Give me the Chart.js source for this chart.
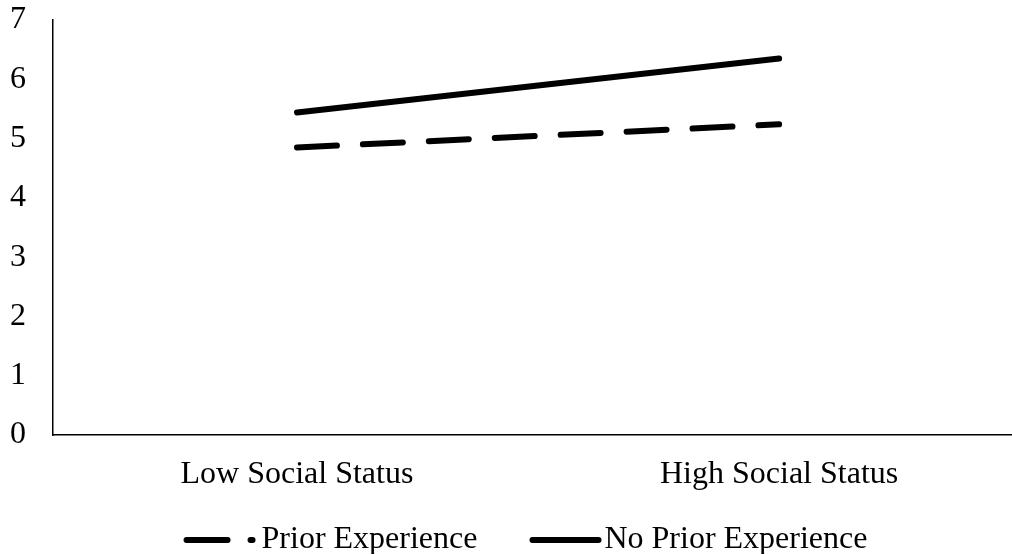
<!DOCTYPE html>
<html>
<head>
<meta charset="utf-8">
<script src="https://cdn.jsdelivr.net/npm/chart.js@4/dist/chart.umd.min.js"></script>
<style>
  html, body { margin: 0; padding: 0; background: #ffffff; }
  canvas { display: block; }
</style>
</head>
<body>
<canvas id="chart" width="1012" height="554"></canvas>
<script>
// Categories and series values
const categories = ['Low Social Status', 'High Social Status'];
const seriesNames = ['Prior Experience', 'No Prior Experience'];
const priorExperience = [4.85, 5.24];
const noPriorExperience = [5.44, 6.35];
const yMin = 0;
const yMax = 7;
const yStep = 1;

const FONT_FAMILY = "'Liberation Serif', 'Times New Roman', serif";
const LINE_WIDTH = 6;
const PLOT_DASH = [40, 26];

// Category positions on a numeric axis, with room on either side
const xPositions = categories.map((c, i) => i);
const X_MIN = -0.506;
const X_MAX = 1.483;

function toPoints(values) {
  return values.map((v, i) => ({ x: xPositions[i], y: v }));
}

// Legend swatches: a short line sample drawn inside a wider image
function makeSwatch(dash, from, to) {
  const c = document.createElement('canvas');
  c.width = 130;
  c.height = 10;
  const g = c.getContext('2d');
  g.strokeStyle = '#000';
  g.lineWidth = LINE_WIDTH;
  g.lineCap = 'round';
  g.setLineDash(dash);
  g.beginPath();
  g.moveTo(from, 5);
  g.lineTo(to, 5);
  g.stroke();
  return c;
}
const legendSwatches = [
  makeSwatch([41, 23], 56.5, 122.5),
  makeSwatch([], 59.5, 125.5)
];

new Chart(document.getElementById('chart'), {
  type: 'line',
  data: {
    datasets: [
      {
        label: seriesNames[0],
        data: toPoints(priorExperience),
        borderColor: '#000',
        backgroundColor: '#000',
        borderWidth: LINE_WIDTH,
        borderDash: PLOT_DASH,
        borderCapStyle: 'round',
        pointRadius: 0,
        tension: 0,
        fill: false
      },
      {
        label: seriesNames[1],
        data: toPoints(noPriorExperience),
        borderColor: '#000',
        backgroundColor: '#000',
        borderWidth: LINE_WIDTH,
        borderCapStyle: 'round',
        pointRadius: 0,
        tension: 0,
        fill: false
      }
    ]
  },
  options: {
    responsive: false,
    animation: false,
    layout: { padding: { left: 0, right: 0, top: 20, bottom: 0 } },
    plugins: {
      tooltip: { enabled: false },
      legend: {
        position: 'bottom',
        maxHeight: 40,
        labels: {
          usePointStyle: true,
          pointStyleWidth: 101,
          padding: 10,
          color: '#000',
          font: { family: FONT_FAMILY, size: 32 },
          generateLabels(chart) {
            const items = Chart.defaults.plugins.legend.labels.generateLabels(chart);
            items.forEach((it, i) => { it.pointStyle = legendSwatches[i]; });
            return items;
          }
        }
      }
    },
    scales: {
      x: {
        type: 'linear',
        min: X_MIN,
        max: X_MAX,
        grid: { display: false, drawTicks: false },
        border: { display: true, color: '#000', width: 1.5 },
        ticks: {
          color: '#000',
          padding: 20,
          maxRotation: 0,
          font: { family: FONT_FAMILY, size: 32 },
          callback: (value) => categories[value]
        },
        afterBuildTicks(scale) {
          scale.ticks = xPositions.map((v) => ({ value: v }));
        },
        afterFit(scale) {
          scale.height = 79;
          scale.paddingLeft = 0;
          scale.paddingRight = 0;
        }
      },
      y: {
        min: yMin,
        max: yMax,
        grid: { display: false, drawTicks: false },
        border: { display: true, color: '#000', width: 1.5 },
        ticks: {
          stepSize: yStep,
          color: '#000',
          padding: 27,
          font: { family: FONT_FAMILY, size: 32 }
        },
        afterFit(scale) {
          scale.width = 53;
          scale.paddingTop = 0;
          scale.paddingBottom = 0;
        }
      }
    }
  }
});
</script>
</body>
</html>
